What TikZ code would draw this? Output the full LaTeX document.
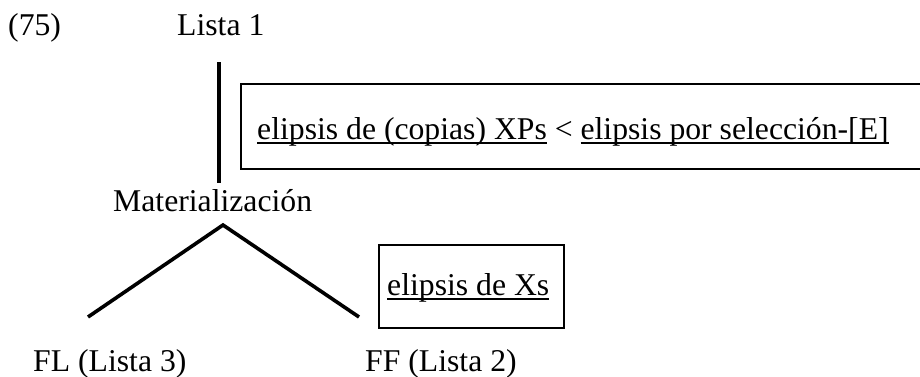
\documentclass[tikz,border=0pt]{standalone}
\usepackage{fontspec}
\setmainfont{Liberation Serif}
\newsavebox\ulbox
\newcommand\myul[1]{\sbox\ulbox{#1}\rlap{\rule[-4.6pt]{\wd\ulbox}{1.7pt}}\usebox\ulbox}
\begin{document}
\begin{tikzpicture}[x=1pt,y=-1pt,
  txt/.style={inner sep=0pt, anchor=base west, font=\fontsize{31.7}{38}\selectfont},
  branch/.style={line width=3.6pt},
  frame/.style={draw, line width=2pt, inner sep=0pt, anchor=north west}]
\clip (0,0) rectangle (920,376);
\fill[white] (0,0) rectangle (920,376);
% texts
\node[txt] (n75) at (8,35) {(75)};
\node[txt] (lista1) at (177,35) {Lista 1};
\node[txt] (mat) at (113,211) {Materialización};
\node[txt] (fl) at (33,371) {FL (Lista 3)};
\node[txt] (ff) at (365,371) {FF (Lista 2)};
% boxes
\node[frame, minimum width=684pt, minimum height=85pt] (box1) at (240,83) {};
\node[txt] (t1) at (257,139) {\myul{elipsis de (copias) XPs} < \myul{elipsis por selección-[E]}};
\node[frame, minimum width=185pt, minimum height=83pt] (box2) at (378,244) {};
\node[txt] (t2) at (387,295) {\myul{elipsis de Xs}};
% connectors
\coordinate (vtop) at (219,62);
\coordinate (vbot) at (219,183);
\coordinate (apex) at (223,225);
\coordinate (lend) at (88,317);
\coordinate (rend) at (359,317);
\draw[line width=4pt] (vtop) -- (vbot);
\draw[branch] (lend) -- (apex) -- (rend);
\end{tikzpicture}
\end{document}
